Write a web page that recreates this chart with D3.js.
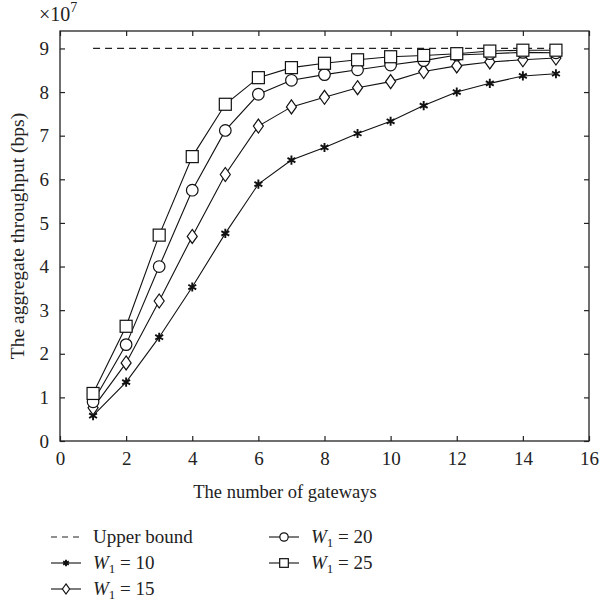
<!DOCTYPE html>
<html><head><meta charset="utf-8">
<script src="https://cdn.jsdelivr.net/npm/d3@7"></script>
<style>body{margin:0;background:#fff}svg{display:block}text{font-family:"Liberation Serif","DejaVu Serif",serif;fill:#222}</style>
</head><body><svg id="c" width="600" height="604"></svg>
<script>
const gateways = [1,2,3,4,5,6,7,8,9,10,11,12,13,14,15];
const upperBound = 9.0;
const w10 = [0.58,1.35,2.38,3.53,4.76,5.89,6.44,6.73,7.05,7.33,7.69,8.00,8.20,8.37,8.42];
const w15 = [0.76,1.79,3.21,4.69,6.11,7.22,7.66,7.88,8.10,8.24,8.47,8.60,8.69,8.74,8.78];
const w20 = [0.90,2.21,4.00,5.75,7.12,7.95,8.27,8.40,8.51,8.62,8.72,8.85,8.88,8.91,8.90];
const w25 = [1.09,2.63,4.72,6.52,7.72,8.33,8.56,8.66,8.74,8.81,8.84,8.88,8.94,8.96,8.96];
const xTicks = [0,2,4,6,8,10,12,14,16];
const yTicks = [0,1,2,3,4,5,6,7,8,9];
const seriesNames = ["10","15","20","25"];

const svg = d3.select("#c");
const L=60,R=589,T=31,B=441;
const x = d3.scaleLinear().domain([0,16]).range([L,R]);
const y = d3.scaleLinear().domain([0,9.4]).range([B,T]);

svg.append("rect").attr("x",L).attr("y",T).attr("width",R-L).attr("height",B-T)
  .attr("fill","none").attr("stroke","#222").attr("stroke-width",1.3);

const tl=5;
const ax = (g)=>g.call(s=>s.select(".domain").remove()).selectAll("line").attr("stroke","#222").attr("stroke-width",1.2);
svg.append("g").attr("transform",`translate(0,${B})`).call(d3.axisBottom(x).tickValues(xTicks).tickSize(-tl).tickPadding(11).tickFormat(d3.format("d"))).call(ax)
  .selectAll("text").style("font-size","19px").style("font-family","Liberation Serif").attr("fill","#222");
svg.append("g").attr("transform",`translate(0,${T})`).call(d3.axisTop(x).tickValues(xTicks).tickSize(-tl).tickFormat("")).call(ax);
svg.append("g").attr("transform",`translate(${L},0)`).call(d3.axisLeft(y).tickValues(yTicks).tickSize(-tl).tickPadding(11).tickFormat(d3.format("d"))).call(ax)
  .selectAll("text").style("font-size","19px").style("font-family","Liberation Serif").attr("fill","#222");
svg.append("g").attr("transform",`translate(${R},0)`).call(d3.axisRight(y).tickValues(yTicks).tickSize(-tl).tickFormat("")).call(ax);

const m = svg.append("text").attr("x",39).attr("y",21).style("font-size","20px");
m.append("tspan").text("×10");
m.append("tspan").attr("dy",-9).style("font-size","14px").text("7");

svg.append("line").attr("x1",x(1)).attr("x2",x(15)).attr("y1",y(upperBound)).attr("y2",y(upperBound))
  .attr("stroke","#222").attr("stroke-width",1.2).attr("stroke-dasharray","7,5");

function marker(g,type,cx,cy,k){
  k = k||1;
  if(type==="star"){
    g.append("path").attr("transform",`translate(${cx},${cy})`).attr("d",d3.symbol(d3.symbolAsterisk,58*k*k)())
     .attr("fill","none").attr("stroke","#111").attr("stroke-width",1.9);
  } else if(type==="diamond"){
    g.append("path").attr("transform",`translate(${cx},${cy}) scale(${k})`).attr("d","M0,-7L5,0L0,7L-5,0Z")
     .attr("fill","#fff").attr("stroke","#111").attr("stroke-width",1.2/k);
  } else if(type==="circle"){
    g.append("circle").attr("cx",cx).attr("cy",cy).attr("r",5.8*k).attr("fill","#fff").attr("stroke","#111").attr("stroke-width",1.2);
  } else {
    g.append("rect").attr("x",cx-6*k).attr("y",cy-6*k).attr("width",12*k).attr("height",12*k).attr("fill","#fff").attr("stroke","#111").attr("stroke-width",1.2);
  }
}
const series = [
  {vals:w10,type:"star"},{vals:w15,type:"diamond"},{vals:w20,type:"circle"},{vals:w25,type:"square"}];
const line = d3.line().x((d,i)=>x(gateways[i])).y(d=>y(d));
series.forEach(s=>{
  svg.append("path").attr("d",line(s.vals)).attr("fill","none").attr("stroke","#111").attr("stroke-width",1.1);
});
series.forEach(s=>{
  const g=svg.append("g");
  s.vals.forEach((v,i)=>marker(g,s.type,x(gateways[i]),y(v)));
});

svg.append("text").attr("x",285).attr("y",498).attr("text-anchor","middle").style("font-size","18.5px").text("The number of gateways");
svg.append("text").attr("transform",`translate(24,${(T+B)/2}) rotate(-90)`).attr("text-anchor","middle").style("font-size","19.5px").text("The aggregate throughput (bps)");

const leg = [
  {col:0,row:0,type:"dash",text:"Upper bound"},
  {col:0,row:1,type:"star",w:seriesNames[0]},
  {col:0,row:2,type:"diamond",w:seriesNames[1]},
  {col:1,row:0,type:"circle",w:seriesNames[2]},
  {col:1,row:1,type:"square",w:seriesNames[3]}];
const colX=[51,269], rowY=[537,563,589];
leg.forEach(d=>{
  const x0=colX[d.col], yy=rowY[d.row];
  const g=svg.append("g");
  if(d.type==="dash"){
    g.append("line").attr("x1",x0).attr("x2",x0+30).attr("y1",yy).attr("y2",yy).attr("stroke","#222").attr("stroke-width",1.2).attr("stroke-dasharray","6,5");
  } else {
    g.append("line").attr("x1",x0).attr("x2",x0+30).attr("y1",yy).attr("y2",yy).attr("stroke","#111").attr("stroke-width",1.1);
    marker(g,d.type,x0+15,yy,0.72);
  }
  const t=g.append("text").attr("x",x0+42).attr("y",yy+6).style("font-size","19px");
  if(d.text){ t.text(d.text); }
  else {
    t.append("tspan").style("font-style","italic").text("W");
    t.append("tspan").attr("dy",4).style("font-size","13px").text("1");
    t.append("tspan").attr("dy",-4).text(" = "+d.w);
  }
});
</script></body></html>
